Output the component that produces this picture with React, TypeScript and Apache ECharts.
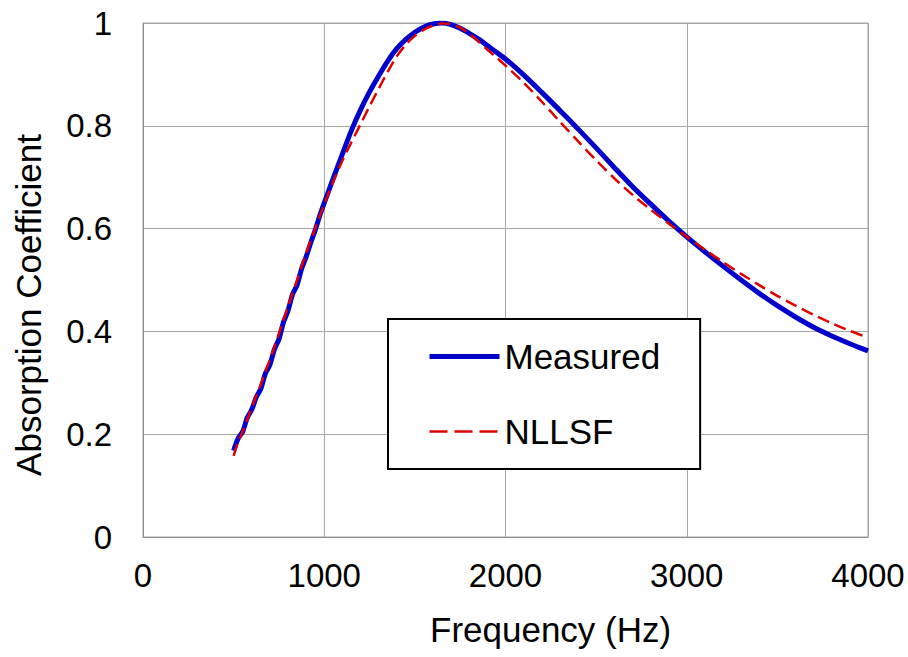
import React, { useEffect, useRef } from "react";
import * as echarts from "echarts";

const measuredFreq = [500, 525, 550, 575, 600, 625, 650, 675, 700, 725, 750, 775, 800, 825, 850, 875, 900, 925, 950, 975, 1000, 1050, 1100, 1150, 1200, 1250, 1300, 1350, 1400, 1450, 1500, 1550, 1600, 1650, 1700, 1750, 1800, 1850, 1900, 1950, 2000, 2100, 2200, 2300, 2400, 2500, 2600, 2700, 2800, 2900, 3000, 3100, 3200, 3300, 3400, 3500, 3600, 3700, 3800, 3900, 4000];
const measuredVals = [0.168, 0.192, 0.205, 0.232, 0.248, 0.272, 0.288, 0.318, 0.335, 0.365, 0.385, 0.418, 0.44, 0.472, 0.49, 0.522, 0.545, 0.572, 0.597, 0.625, 0.65, 0.698, 0.745, 0.791, 0.831, 0.866, 0.897, 0.926, 0.95, 0.968, 0.982, 0.992, 0.998, 1.0, 0.997, 0.99, 0.98, 0.969, 0.956, 0.943, 0.93, 0.899, 0.865, 0.83, 0.794, 0.757, 0.719, 0.682, 0.648, 0.615, 0.584, 0.555, 0.527, 0.5, 0.474, 0.45, 0.428, 0.408, 0.391, 0.376, 0.362];

const fitFreq = [500, 525, 550, 575, 600, 625, 650, 675, 700, 725, 750, 775, 800, 825, 850, 875, 900, 925, 950, 975, 1000, 1050, 1100, 1150, 1200, 1250, 1300, 1350, 1400, 1450, 1500, 1550, 1600, 1650, 1700, 1750, 1800, 1850, 1900, 1950, 2000, 2100, 2200, 2300, 2400, 2500, 2600, 2700, 2800, 2900, 3000, 3100, 3200, 3300, 3400, 3500, 3600, 3700, 3800, 3900, 4000];
const fitVals = [0.158, 0.185, 0.205, 0.228, 0.252, 0.275, 0.297, 0.322, 0.345, 0.37, 0.396, 0.422, 0.448, 0.474, 0.5, 0.526, 0.552, 0.576, 0.6, 0.624, 0.648, 0.691, 0.732, 0.768, 0.803, 0.838, 0.872, 0.905, 0.935, 0.958, 0.975, 0.987, 0.995, 0.999, 0.998, 0.991, 0.979, 0.964, 0.948, 0.933, 0.917, 0.884, 0.847, 0.808, 0.77, 0.733, 0.698, 0.666, 0.637, 0.61, 0.584, 0.559, 0.535, 0.512, 0.49, 0.469, 0.45, 0.432, 0.416, 0.401, 0.388];

const xTicks = [0, 1000, 2000, 3000, 4000];
const yTicks = [0, 0.2, 0.4, 0.6, 0.8, 1];
const seriesNames = ["Measured", "NLLSF"];

const FONT = "Liberation Sans, Arial, sans-serif";

export default function App() {
  const ref = useRef<HTMLDivElement>(null);
  useEffect(() => {
    if (!ref.current) return;
    const chart = echarts.init(ref.current, null, { renderer: "svg" });
    const measured = measuredFreq.map((f, i) => [f, measuredVals[i]]);
    const fit = fitFreq.map((f, i) => [f, fitVals[i]]);
    chart.setOption({
      animation: false,
      backgroundColor: "#ffffff",
      textStyle: { fontFamily: FONT },
      grid: {
        left: 143,
        right: 40,
        top: 23,
        bottom: 120,
        show: true,
        borderColor: "#a6a6a6",
        borderWidth: 1,
        outerBoundsMode: "none",
        containLabel: false,
      },
      xAxis: {
        type: "value",
        min: xTicks[0],
        max: xTicks[xTicks.length - 1],
        interval: 1000,
        axisLine: { show: true, lineStyle: { color: "#8c8c8c", width: 1 } },
        axisTick: { show: false },
        splitLine: { show: true, lineStyle: { color: "#a6a6a6", width: 1 } },
        axisLabel: {
          color: "#000",
          fontSize: 33,
          fontFamily: FONT,
          margin: 22,
          formatter: (v: number) => String(v),
        },
      },
      yAxis: {
        type: "value",
        min: yTicks[0],
        max: yTicks[yTicks.length - 1],
        interval: 0.2,
        axisLine: { show: true, lineStyle: { color: "#8c8c8c", width: 1 } },
        axisTick: { show: false },
        splitLine: { show: true, lineStyle: { color: "#a6a6a6", width: 1 } },
        axisLabel: {
          color: "#000",
          fontSize: 33,
          fontFamily: FONT,
          margin: 31,
          formatter: (v: number) => String(Math.round(v * 10) / 10),
        },
      },
      legend: {
        orient: "vertical",
        left: 388,
        top: 319,
        data: [
          { name: seriesNames[0], lineStyle: { width: 5, color: "#0000cc" }, itemStyle: { opacity: 0 } },
          { name: seriesNames[1], lineStyle: { width: 2.5, color: "#e00000", type: [18, 7] }, itemStyle: { opacity: 0 } },
        ],
        itemStyle: { opacity: 0 },
        backgroundColor: "#ffffff",
        borderColor: "#000000",
        borderWidth: 2,
        borderRadius: 0,
        padding: [20, 40, 20, 39],
        itemWidth: 70,
        itemHeight: 14,
        itemGap: 40,
        textStyle: { color: "#000", fontSize: 35, fontFamily: FONT },
      },
      graphic: [
        {
          type: "text",
          left: 430,
          top: 612,
          style: { text: "Frequency (Hz)", fill: "#000", font: "35px " + FONT },
        },
        {
          type: "text",
          x: 28,
          y: 305,
          rotation: Math.PI / 2,
          style: {
            text: "Absorption Coefficient",
            fill: "#000",
            font: "35px " + FONT,
            align: "center",
            verticalAlign: "middle",
          },
        },
      ],
      series: [
        {
          name: seriesNames[0],
          type: "line",
          data: measured,
          showSymbol: false,
          symbol: "none",
          smooth: 0.3,
          lineStyle: { color: "#0000cc", width: 5 },
          itemStyle: { color: "#0000cc" },
          z: 2,
        },
        {
          name: seriesNames[1],
          type: "line",
          data: fit,
          showSymbol: false,
          symbol: "none",
          smooth: 0.3,
          lineStyle: { color: "#e00000", width: 2.5, type: [12, 6] },
          itemStyle: { color: "#e00000" },
          z: 3,
        },
      ],
    });
    return () => chart.dispose();
  }, []);
  return (
    <div
      ref={ref}
      style={{ position: "fixed", left: 0, top: 0, width: 908, height: 657 }}
    />
  );
}
